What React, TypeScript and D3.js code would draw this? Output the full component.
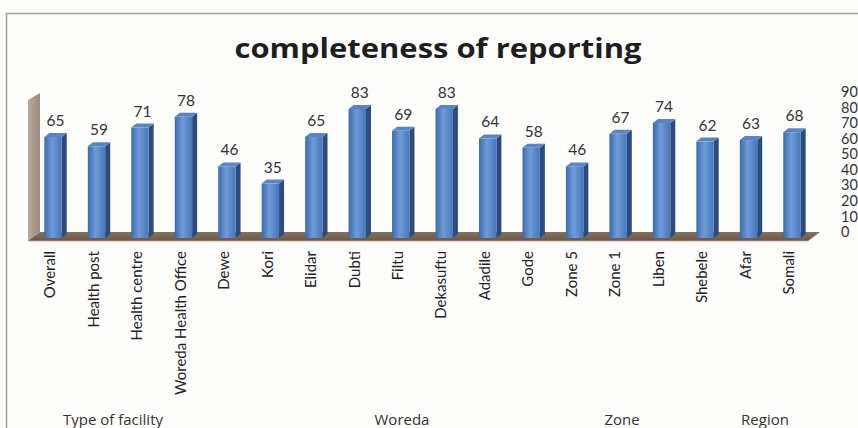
import React from "react";
import * as d3 from "d3";

const categories = ["Overall","Health post","Health centre","Woreda Health Office","Dewe","Kori","Elidar","Dubti","Filtu","Dekasuftu","Adadile","Gode","Zone 5","Zone 1","Liben","Shebele","Afar","Somali"];
const values = [65,59,71,78,46,35,65,83,69,83,64,58,46,67,74,62,63,68];
const axisTicks = [0,10,20,30,40,50,60,70,80,90];
const groupLabels = ["Type of facility","Woreda","Zone","Region"];
const groupCenters = [113,402,622,765];

const W = 858, H = 428;
const FONT = "Lato, 'Open Sans', sans-serif";

export default function App() {
  const x = d3.scaleBand<string>().domain(categories).range([31.3, 813.7]).paddingInner(0.6).paddingOuter(0.3);
  const y = d3.scaleLinear().domain([0, 90]).range([238, 238 - 90 * 1.555]);
  const bw = x.bandwidth();
  const ddx = 5, ddy = -4;
  const floorPts = [[28,241],[808,241],[820,232],[40,232]];
  const wallPts = [[28,241],[28,100],[40,93],[40,232]];
  const pts = (p: number[][]) => p.map(q => q.join(",")).join(" ");
  return (
    <svg width={W} height={H} style={{position:"absolute", left:0, top:0, background:"#fffdfa"}}>
      <defs>
        <linearGradient id="front" x1="0" x2="1" y1="0" y2="0">
          <stop offset="0" stopColor="#3b6aae" />
          <stop offset="0.45" stopColor="#6f9bd8" />
          <stop offset="1" stopColor="#4676bb" />
        </linearGradient>
        <linearGradient id="wall" x1="0" x2="1" y1="0" y2="0">
          <stop offset="0" stopColor="#b5aa9e" />
          <stop offset="1" stopColor="#9a8b7c" />
        </linearGradient>
        <linearGradient id="floor" x1="0" x2="0" y1="0" y2="1">
          <stop offset="0" stopColor="#86725f" />
          <stop offset="1" stopColor="#6a5746" />
        </linearGradient>
      </defs>
      <rect x={6.5} y={13.5} width={900} height={500} fill="#fdfdfb" stroke="#9cab8e" strokeWidth={1.6} />
      <text x={438} y={58} textAnchor="middle" fontFamily="'Open Sans', sans-serif" fontWeight={700} fontSize={26} fill="#1e1e1e" textLength={407} lengthAdjust="spacingAndGlyphs">completeness of reporting</text>
      <polygon points={pts(wallPts)} fill="url(#wall)" />
      <polygon points={pts(floorPts)} fill="url(#floor)" />
      <line x1={28} y1={241.5} x2={808} y2={241.5} stroke="#e0dcd6" strokeWidth={1.5} />
      {categories.map((c, i) => {
        const x0 = x(c)!;
        const yt = y(values[i]);
        const yb = y(0);
        return (
          <g key={c}>
            <polygon points={pts([[x0 + bw, yb],[x0 + bw, yt],[x0 + bw + ddx, yt + ddy],[x0 + bw + ddx, yb + ddy]])} fill="#2d4c7e" />
            <polygon points={pts([[x0, yt],[x0 + bw, yt],[x0 + bw + ddx, yt + ddy],[x0 + ddx, yt + ddy]])} fill="#5a84c2" />
            <rect x={x0} y={yt} width={bw} height={yb - yt} fill="url(#front)" />
            <text x={x0 + (bw + ddx) / 2} y={yt - 11} textAnchor="middle" fontFamily={FONT} fontSize={15.5} fill="#333">{values[i]}</text>
            <text transform={`translate(${x0 + bw / 2 - 3},251) rotate(-90)`} textAnchor="end" dy="0.35em" fontFamily={FONT} fontSize={15} fill="#222">{c}</text>
          </g>
        );
      })}
      {axisTicks.map(t => (
        <text key={t} x={841} y={y(t) - 6} dy="0.35em" fontFamily={FONT} fontSize={14.5} fill="#333">{t}</text>
      ))}
      {groupLabels.map((g, i) => (
        <text key={g} x={groupCenters[i]} y={425} textAnchor="middle" fontFamily="'Open Sans', sans-serif" fontSize={15} fill="#333">{g}</text>
      ))}
    </svg>
  );
}
